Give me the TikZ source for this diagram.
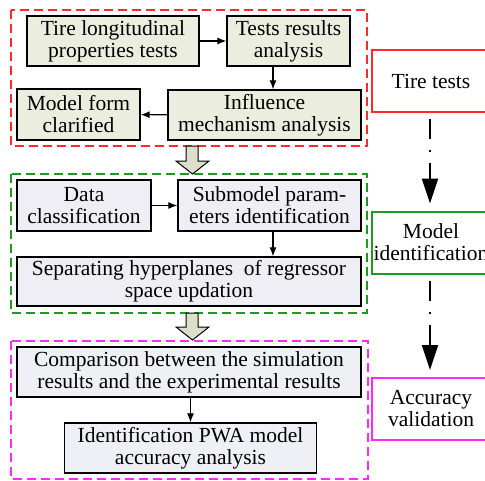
\documentclass[tikz,border=0pt]{standalone}
\usepackage{fontspec}
\setmainfont{Liberation Serif}
\usetikzlibrary{arrows.meta}

\definecolor{boxA}{HTML}{EBEDDE}
\definecolor{boxB}{HTML}{EFEEF4}
\definecolor{boxC}{HTML}{EEF0F5}
\definecolor{frameR}{HTML}{FF2A2A}
\definecolor{frameG}{HTML}{1E9A1E}
\definecolor{frameM}{HTML}{FF2AFF}
\definecolor{bigarrow}{HTML}{DCDFCB}

\tikzset{
  stage/.style={draw=black,line width=1.3pt,align=center,inner sep=0pt,
    font=\fontsize{21.5}{22}\selectfont},
  phase/.style={draw,line width=2pt,fill=white,align=center,inner sep=0pt,
    minimum width=118pt,minimum height=62pt,font=\fontsize{21.5}{22}\selectfont},
  frame/.style={line width=1.3pt,dash pattern=on 9pt off 5pt},
  flow/.style={-{Latex[length=9pt,width=7pt]},line width=1.1pt},
  phaseflow/.style={-{Triangle[length=25pt,width=16pt]},line width=2pt,
    dash pattern=on 20pt off 11pt on 2pt off 11pt},
}

\begin{document}
\begin{tikzpicture}[x=1pt,y=-1pt]
\useasboundingbox (0,0) rectangle (485,480);
\clip (0,0) rectangle (485,480);

% dashed frames
\draw[frame,frameR] (11,10) rectangle (367,146);
\draw[frame,frameG] (11,174) rectangle (367,313);
\draw[frame,frameM] (11,341) rectangle (368,479);

% tire tests
\node[stage,fill=boxA,minimum width=172pt,minimum height=50pt] (tiretest) at (113,41) {Tire longitudinal\\properties tests};
\node[stage,fill=boxA,minimum width=123pt,minimum height=50pt] (results) at (288.5,41) {Tests results\\analysis};
\node[stage,fill=boxA,minimum width=123pt,minimum height=51pt] (modelform) at (78.5,114.5) {Model form\\clarified};
\node[stage,fill=boxA,minimum width=193pt,minimum height=50pt] (influence) at (264.5,115) {Influence\\mechanism analysis};
\draw[flow] (tiretest) -- (results);
\draw[flow] (results.south-|273,0) -- (influence.north-|273,0);
\draw[flow] (influence) -- (modelform);

% model identification
\node[stage,fill=boxB,minimum width=134pt,minimum height=51pt] (dataclass) at (84,205.5) {Data\\classification};
\node[stage,fill=boxB,minimum width=183pt,minimum height=51pt] (submodel) at (269.5,205.5) {Submodel param-\\eters identification};
\node[stage,fill=boxB,minimum width=344pt,minimum height=49pt] (hyperplane) at (189,281.5) {Separating hyperplanes\ \ of regressor\\space updation};
\draw[flow] (dataclass) -- (submodel);
\draw[flow] (submodel.south-|273,0) -- (hyperplane.north-|273,0);

% accuracy validation
\node[stage,fill=boxC,minimum width=344pt,minimum height=50pt] (compare) at (189,372) {Comparison between the simulation\\results and the experimental results};
\node[stage,fill=boxC,minimum width=252pt,minimum height=50pt] (accuracy) at (190.5,448) {Identification PWA model\\accuracy analysis};
\draw[flow] (compare.south-|accuracy) -- (accuracy);

% block arrows between frames
\foreach \ytop/\ytip in {146/174,313/340}
  \filldraw[fill=bigarrow,draw=black,line width=1pt]
    (186,\ytop) -- (198,\ytop) -- (198,\ytip-13) -- (209,\ytip-13) -- (192.5,\ytip)
    -- (176,\ytip-13) -- (186,\ytip-13) -- cycle;

% phases
\node[phase,draw=frameR] (phtire) at (431,81) {Tire tests};
\node[phase,draw=frameG] (phmodel) at (431,242.5) {Model\\identification};
\node[phase,draw=frameM] (phacc) at (431,409) {Accuracy\\validation};
\draw[phaseflow,shorten <=6pt,shorten >=7pt] (phtire.south-|430,0) -- (phmodel.north-|430,0);
\draw[phaseflow,shorten <=6pt,shorten >=7pt] (phmodel.south-|430,0) -- (phacc.north-|430,0);

\end{tikzpicture}
\end{document}
